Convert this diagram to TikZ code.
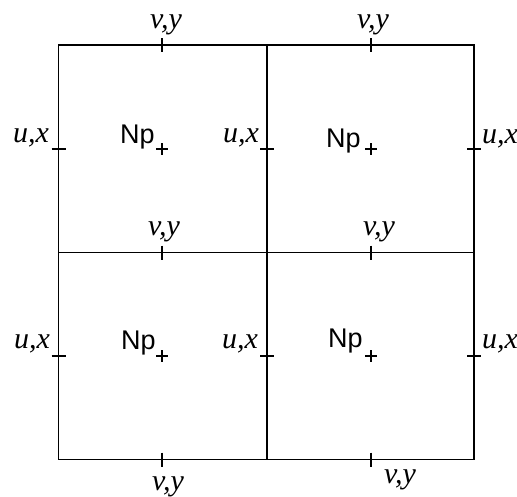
\documentclass[tikz,border=0pt]{standalone}
\usepackage{fontspec}
\setmainfont{Liberation Serif}
\newfontfamily\npfont{Liberation Sans}
\begin{document}
\begin{tikzpicture}[x=1pt,y=-1pt,
  gridline/.style={line width=1.7pt,line cap=rect},
  tick/.style={line width=1.4pt},
  lbl/.style={anchor=base,inner sep=0pt,font=\fontsize{30}{30}\selectfont\itshape},
  nplbl/.style={anchor=base west,inner sep=0pt,font=\fontsize{27}{27}\selectfont\npfont},
  pluslbl/.style={line width=1.4pt}]
\useasboundingbox (0,0) rectangle (517,496);
% grid corners
\coordinate (tl) at (58.5,45);
\coordinate (tm) at (267,45);
\coordinate (tr) at (474,45);
\coordinate (ml) at (58.5,252.5);
\coordinate (mm) at (267,252.5);
\coordinate (mr) at (474,252.5);
\coordinate (bl) at (58.5,459.5);
\coordinate (bm) at (267,459.5);
\coordinate (br) at (474,459.5);
\draw[gridline] (tl) -- (tr) -- (br) -- (bl) -- cycle;
\draw[gridline] (tm) -- (bm);
\draw[gridline] (ml) -- (mr);
% ticks on horizontal lines (v,y points)
\foreach \px in {162,371}{
  \foreach \py in {45,252.5,459.5}{
    \draw[tick] (\px,\py-7) -- (\px,\py+7);
  }
}
% ticks on vertical lines (u,x points)
\foreach \px in {58.5,267,474}{
  \foreach \py in {149,356}{
    \draw[tick] (\px-7,\py) -- (\px+7,\py);
  }
}
% cell centre markers
\foreach \px/\py in {162/149,371/149,162/356,371/356}{
  \draw[pluslbl] (\px-6,\py) -- (\px+6,\py);
  \draw[pluslbl] (\px,\py-6) -- (\px,\py+6);
}
% v,y labels
\node[lbl] (vy1) at (166,28) {v,y};
\node[lbl] (vy2) at (373,28) {v,y};
\node[lbl] (vy3) at (164,235) {v,y};
\node[lbl] (vy4) at (379,235) {v,y};
\node[lbl] (vy5) at (168,490) {v,y};
\node[lbl] (vy6) at (400,483) {v,y};
% u,x labels
\node[lbl] (ux1) at (31,142) {u,x};
\node[lbl] (ux2) at (241,142) {u,x};
\node[lbl] (ux3) at (500,143) {u,x};
\node[lbl] (ux4) at (32,348) {u,x};
\node[lbl] (ux5) at (240,348) {u,x};
\node[lbl] (ux6) at (500,348) {u,x};
% Np labels
\node[nplbl] (np1) at (120,143) {Np};
\node[nplbl] (np2) at (326,147) {Np};
\node[nplbl] (np3) at (121,349) {Np};
\node[nplbl] (np4) at (328,347) {Np};
\end{tikzpicture}
\end{document}
